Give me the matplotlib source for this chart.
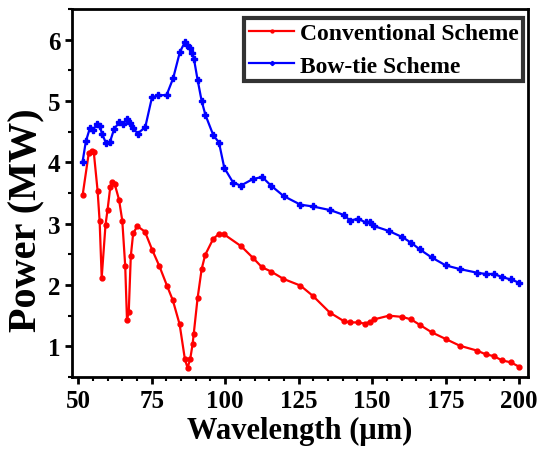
import matplotlib
matplotlib.use('Agg')
import matplotlib.pyplot as plt
from matplotlib.ticker import MultipleLocator

plt.rcParams['font.family'] = ['Liberation Serif', 'DejaVu Serif']
plt.rcParams['font.weight'] = 'bold'

# Conventional Scheme
conv_wl = [51.5, 53.6, 54.6, 55.3, 56.6, 57.3, 58.0, 59.3, 60.0, 60.9, 61.6, 62.4, 63.9,
           65.0, 66.0, 66.6, 67.2, 67.9, 68.7, 70.1, 72.7, 75.2, 77.6, 80.2, 82.2, 84.5,
           86.3, 87.2, 88.1, 88.9, 89.3, 90.6, 92.0, 93.2, 95.9, 97.8, 99.5, 105.5, 109.5,
           112.5, 115.6, 119.8, 125.6, 129.9, 135.6, 140.4, 142.4, 145.2, 147.5, 149.2,
           150.7, 155.7, 160.2, 163.2, 166.2, 170.2, 175.0, 179.8, 185.7, 188.6, 191.4,
           194.2, 197.1, 199.9]
conv_pw = [3.46, 4.15, 4.19, 4.17, 3.54, 3.04, 2.12, 2.98, 3.23, 3.59, 3.68, 3.65, 3.39,
           3.05, 2.31, 1.43, 1.56, 2.47, 2.84, 2.96, 2.87, 2.57, 2.31, 1.99, 1.75, 1.36,
           0.79, 0.65, 0.79, 1.03, 1.20, 1.78, 2.26, 2.49, 2.75, 2.83, 2.83, 2.63, 2.44,
           2.29, 2.22, 2.10, 1.99, 1.82, 1.55, 1.41, 1.39, 1.39, 1.37, 1.40,
           1.44, 1.50, 1.48, 1.44, 1.35, 1.23, 1.12, 1.01, 0.93, 0.87, 0.84,
           0.77, 0.74, 0.67]

# Bow-tie Scheme
bow_wl = [51.5, 52.6, 54.0, 55.1, 56.5, 57.3, 58.1, 59.4, 60.8, 62.2, 63.9, 65.3, 66.7,
          67.6, 68.7, 70.2, 72.8, 75.1, 77.3, 80.1, 82.3, 84.6, 86.3, 87.1, 87.9, 88.8,
          89.4, 90.6, 92.0, 93.3, 95.9, 97.9, 99.7, 102.7, 105.3, 109.5, 112.6, 115.6,
          119.9, 125.6, 129.9, 135.8, 140.5, 142.4, 145.2, 147.8, 149.2, 150.7, 155.7,
          160.3, 163.2, 166.2, 170.2, 175.0, 179.8, 185.7, 188.6, 191.4, 194.2, 197.1, 199.9]
bow_pw = [4.01, 4.34, 4.56, 4.53, 4.63, 4.59, 4.47, 4.32, 4.33, 4.54, 4.65, 4.63, 4.70,
          4.64, 4.56, 4.47, 4.57, 5.06, 5.09, 5.10, 5.37, 5.80, 5.96, 5.91, 5.87, 5.78,
          5.68, 5.35, 5.00, 4.77, 4.45, 4.32, 3.91, 3.67, 3.62, 3.73, 3.76, 3.62,
          3.45, 3.31, 3.28, 3.22, 3.14, 3.05, 3.08, 3.02, 3.03, 2.96, 2.88,
          2.78, 2.69, 2.58, 2.45, 2.32, 2.26, 2.20, 2.18, 2.18, 2.13, 2.09, 2.04]

fig = plt.figure(figsize=(5.42, 4.56), dpi=100)
ax = fig.add_axes([72/542, 1 - 378/456, (528-72)/542, (378-10)/456])

ax.plot(conv_wl, conv_pw, color='red', marker='o', markersize=3.5, linewidth=1.6,
        label='Conventional Scheme')
ax.plot(bow_wl, bow_pw, color='blue', marker='P', markersize=4.5, linewidth=1.6,
        label='Bow-tie Scheme')

ax.set_xlim(47.9, 203)
ax.set_ylim(0.5, 6.5)
ax.xaxis.set_major_locator(MultipleLocator(25))
ax.xaxis.set_minor_locator(MultipleLocator(5))
ax.yaxis.set_major_locator(MultipleLocator(1))
ax.yaxis.set_minor_locator(MultipleLocator(0.5))

for s in ax.spines.values():
    s.set_linewidth(2)
ax.tick_params(which='major', direction='out', length=5, width=2, labelsize=18)
ax.tick_params(which='minor', direction='out', length=3, width=1.5)
ax.tick_params(top=False, right=False)
for lbl in ax.get_xticklabels() + ax.get_yticklabels():
    lbl.set_fontweight('bold')

ax.set_xlabel('Wavelength (\u03bcm)', fontsize=22, fontweight='bold', labelpad=3)
fig.text(27/542, 1 - 220/456, 'Power (MW)', rotation=90, ha='center', va='center',
         fontsize=29, fontweight='bold')

leg = ax.legend(loc='upper right', bbox_to_anchor=(0.99, 0.975),
                prop={'weight': 'bold', 'size': 17}, frameon=True, fancybox=False,
                edgecolor='black', markerscale=0.6, handlelength=1.9,
                borderpad=0.2, labelspacing=0.45, handletextpad=0.25, borderaxespad=0.0)
leg.get_frame().set_linewidth(3)

fig.savefig('out.png', dpi=100)
